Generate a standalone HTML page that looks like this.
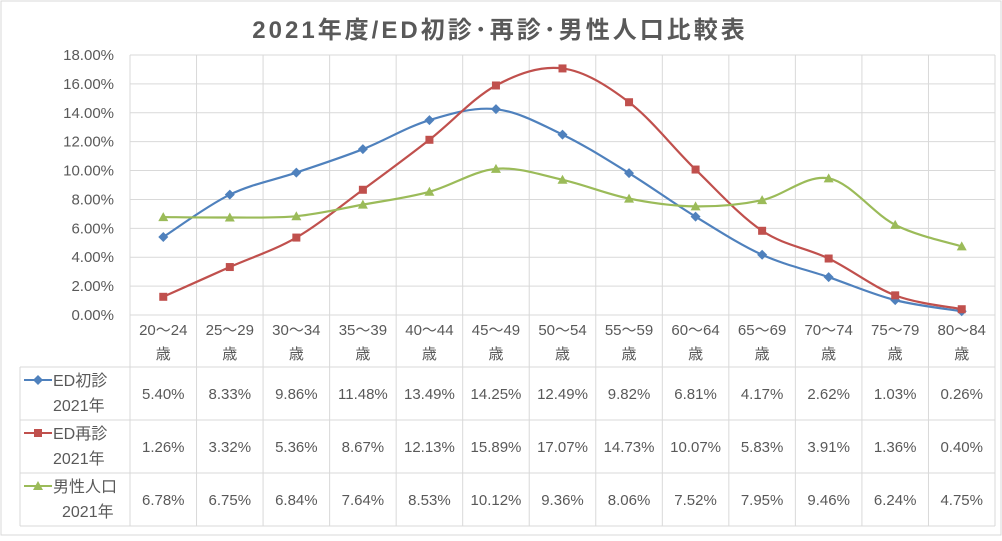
<!DOCTYPE html>
<html><head><meta charset="utf-8"><style>
body{margin:0;background:#fff}
svg text{font-family:"Liberation Sans","Noto Sans CJK JP",sans-serif;fill:#595959}
</style></head><body>
<svg id="c" width="1002" height="536">
<rect x="1" y="1" width="1000" height="534" fill="#fff" stroke="#d9d9d9"/>
<text x="500" y="38" text-anchor="middle" font-size="24" font-weight="bold" letter-spacing="3">2021年度/ED初診･再診･男性人口比較表</text>
<g id="grid"></g><g id="lines"></g><g id="tbl"></g>
</svg>
<script>
const categories=["20～24","25～29","30～34","35～39","40～44","45～49","50～54","55～59","60～64","65～69","70～74","75～79","80～84"];
const seriesNames=["ED初診","ED再診","男性人口"];
const shoshin=[5.40,8.33,9.86,11.48,13.49,14.25,12.49,9.82,6.81,4.17,2.62,1.03,0.26];
const saishin=[1.26,3.32,5.36,8.67,12.13,15.89,17.07,14.73,10.07,5.83,3.91,1.36,0.40];
const jinko=[6.78,6.75,6.84,7.64,8.53,10.12,9.36,8.06,7.52,7.95,9.46,6.24,4.75];
const yTicks=[0,2,4,6,8,10,12,14,16,18];
const NS="http://www.w3.org/2000/svg";
const L=130,R=995,T=55,B=315,cw=(R-L)/categories.length;
const x=i=>L+cw*(i+0.5), y=v=>B-(v/18)*(B-T);
function mk(tag,attrs,parent,txt){const e=document.createElementNS(NS,tag);for(const k in attrs)e.setAttribute(k,attrs[k]);if(txt!=null)e.textContent=txt;parent.appendChild(e);return e;}
const G=document.getElementById('grid'),Ln=document.getElementById('lines'),Tb=document.getElementById('tbl');
yTicks.forEach(t=>{
 const l=mk('line',{x1:L,x2:R,y1:y(t),y2:y(t),stroke:'#d9d9d9'},G);
 
 
 const tx=mk('text',{x:114,y:y(t)+5,'text-anchor':'end','font-size':15},G,t.toFixed(2)+'%');
 
 
});
for(let i=0;i<=categories.length;i++){
 const l=mk('line',{x1:L+cw*i,x2:L+cw*i,y1:T,y2:526,stroke:'#d9d9d9'},G);
 
 
}
[367,420,473,526].forEach(yy=>{
 const l=mk('line',{x1:20,x2:R,y1:yy,y2:yy,stroke:'#d9d9d9'},Tb);
 
 
});
const vl=mk('line',{x1:20,x2:20,y1:367,y2:526,stroke:'#d9d9d9'},Tb);


categories.forEach((c,i)=>{
 const t1=mk('text',{x:x(i),y:335,'text-anchor':'middle','font-size':15},Tb,c);
 
 
 const t2=mk('text',{x:x(i),y:359,'text-anchor':'middle','font-size':15},Tb,'歳');
 
 
});
const colors=['#4F81BD','#C0504D','#9BBB59'];
const data=[shoshin,saishin,jinko];
function marker(k,cx,cy,p){
 let e;
 if(k===0)e=mk('path',{d:`M${cx} ${cy-5}L${cx+5} ${cy}L${cx} ${cy+5}L${cx-5} ${cy}Z`,fill:colors[k]},p);
 else if(k===1)e=mk('rect',{x:cx-4,y:cy-4,width:8,height:8,fill:colors[k]},p);
 else e=mk('path',{d:`M${cx} ${cy-5}L${cx+5} ${cy+4}L${cx-5} ${cy+4}Z`,fill:colors[k]},p);
 return e;
}
data.forEach((arr,k)=>{
 const pts=arr.map((v,i)=>[x(i),y(v)]);
 let d=`M${pts[0][0]} ${pts[0][1]}`;
 for(let i=0;i<pts.length-1;i++){
  const p0=pts[Math.max(0,i-1)],p1=pts[i],p2=pts[i+1],p3=pts[Math.min(pts.length-1,i+2)];
  const s=1/6;
  d+=`C${p1[0]+(p2[0]-p0[0])*s} ${p1[1]+(p2[1]-p0[1])*s} ${p2[0]-(p3[0]-p1[0])*s} ${p2[1]-(p3[1]-p1[1])*s} ${p2[0]} ${p2[1]}`;
 }
 const path=mk('path',{d:d,fill:'none',stroke:colors[k],'stroke-width':2.2},Ln);
 
 
 pts.forEach(p=>{
  const m=marker(k,p[0],p[1],Ln);
  
  
 });
 const ry=367+53*k;
 const ll=mk('line',{x1:24,x2:52,y1:ry+13,y2:ry+13,stroke:colors[k],'stroke-width':2},Tb);
 
 
 const lm=marker(k,38,ry+13,Tb);
 
 
 const n1=mk('text',{x:53,y:ry+19,'font-size':16},Tb,seriesNames[k]);
 
 
 const n2=mk('text',{x:k===2?62:53,y:ry+44,'font-size':16},Tb,'2021年');
 
 
 arr.forEach((v,i)=>{
  const t=mk('text',{x:x(i),y:ry+32,'text-anchor':'middle','font-size':15},Tb,v.toFixed(2)+'%');
  
  
 });
});
</script>
</body></html>
